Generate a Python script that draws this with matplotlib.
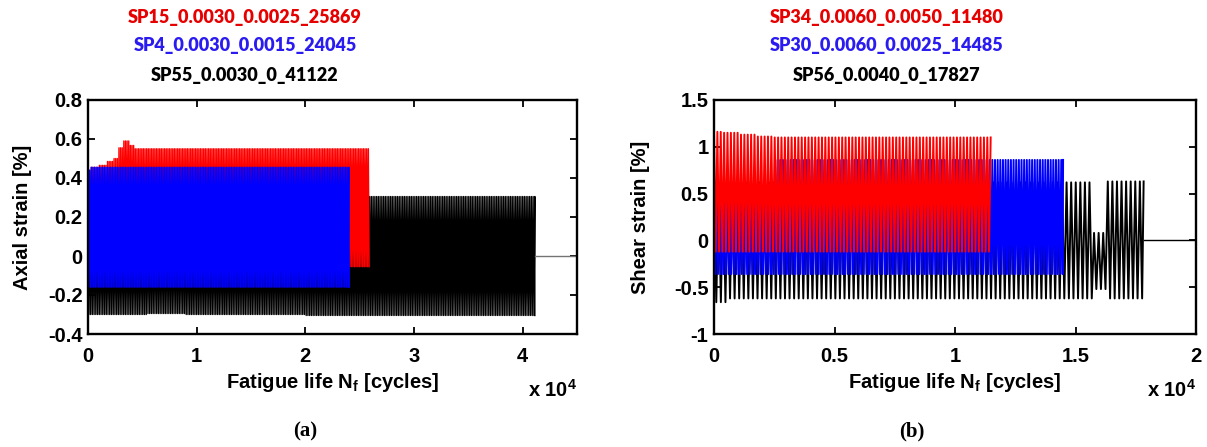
import numpy as np
import matplotlib.pyplot as plt

# ---- (a) axial strain histories: envelope breakpoints ----
# cycle at which a level starts, peak strain [%], valley strain [%]
sp15_life, sp15_step = 25869, 150
sp15_cyc = [0, 280, 990, 1700, 2400, 2830, 3180, 3540, 3820, 4240]
sp15_peak = [0.44, 0.455, 0.465, 0.485, 0.50, 0.555, 0.59, 0.59, 0.567, 0.55]
sp15_valley = [-0.055, -0.055, -0.055, -0.055, -0.055, -0.055, -0.055, -0.055, -0.055, -0.055]

sp4_life, sp4_step = 24045, 150
sp4_cyc = [0, 300]
sp4_peak = [0.44, 0.455]
sp4_valley = [-0.16, -0.16]

sp55_life, sp55_step = 41122, 160
sp55_cyc = [0, 5500, 9000, 20000]
sp55_peak = [0.30, 0.30, 0.30, 0.305]
sp55_valley = [-0.30, -0.295, -0.30, -0.305]

# ---- (b) shear strain histories ----
sp34_life, sp34_step = 11480, 140
sp34_cyc = [0, 400, 1000, 1700, 2500]
sp34_peak = [1.16, 1.15, 1.13, 1.11, 1.10]
sp34_valley = [-0.12, -0.12, -0.12, -0.12, -0.12]

sp30_life, sp30_step = 14485, 110
sp30_cyc = [0, 2500]
sp30_peak = [0.55, 0.86]
sp30_valley = [-0.36, -0.36]

sp56_life, sp56_step = 17827, 190
sp56_cyc = [0, 600, 15700, 16300]
sp56_peak = [0.62, 0.62, 0.08, 0.63]
sp56_valley = [-0.66, -0.62, -0.52, -0.62]

titles_a = ["SP15_0.0030_0.0025_25869", "SP4_0.0030_0.0015_24045", "SP55_0.0030_0_41122"]
titles_b = ["SP34_0.0060_0.0050_11480", "SP30_0.0060_0.0025_14485", "SP56_0.0040_0_17827"]
title_colors = ["#e60000", "#2a1cf0", "black"]

plt.rcParams["font.family"] = "Liberation Sans"
plt.rcParams["font.weight"] = "bold"
plt.rcParams["axes.labelweight"] = "bold"
plt.rcParams["mathtext.fontset"] = "custom"
plt.rcParams["mathtext.rm"] = "Liberation Sans:bold"
plt.rcParams["mathtext.bf"] = "Liberation Sans:bold"

FS = 14.5
W, H = 1207, 447
fig = plt.figure(figsize=(W / 100, H / 100), dpi=100)


def fx(x):
    return x / W


def fy(y):
    return 1 - y / H


def history(ax, life, step, cyc, peak, valley, color, lw):
    # alternate peak / valley of each logged block, levels looked up stepwise
    xs = np.append(np.arange(0, life, step / 2), life)
    idx = np.searchsorted(cyc, xs, side="right") - 1
    ys = np.where(np.arange(len(xs)) % 2 == 0, np.asarray(peak)[idx], np.asarray(valley)[idx])
    ax.plot(xs, ys, color=color, lw=lw)


def style(ax, xmax, xticks, yticks, ylabel):
    ax.set_xlim(0, xmax)
    ax.set_ylim(yticks[0], yticks[-1])
    ax.set_xticks([t * 1e4 for t in xticks])
    ax.set_xticklabels([f"{t:g}" for t in xticks])
    ax.set_yticks(yticks)
    ax.set_yticklabels([f"{t:g}" for t in yticks])
    ax.tick_params(direction="in", top=True, right=True, length=5, width=1.3, labelsize=FS)
    ax.tick_params(axis="x", pad=9)
    ax.tick_params(axis="y", pad=4)
    for s in ax.spines.values():
        s.set_linewidth(1.7)
    ax.set_xlabel(r"Fatigue life N$_\mathbf{f}$ [cycles]", fontsize=FS)
    ax.xaxis.set_label_coords(0.5, -48 / 234)
    ax.xaxis.label.set_verticalalignment("center")
    ax.set_ylabel(ylabel, fontsize=FS)


# (a)
axA = fig.add_axes([fx(88), fy(334), 489 / W, 234 / H])
history(axA, sp55_life, sp55_step, sp55_cyc, sp55_peak, sp55_valley, "black", 1.0)
axA.plot([sp55_life, 45000], [0, 0], color="0.45", lw=1.0)
history(axA, sp15_life, sp15_step, sp15_cyc, sp15_peak, sp15_valley, "red", 1.0)
history(axA, sp4_life, sp4_step, sp4_cyc, sp4_peak, sp4_valley, "blue", 1.0)
style(axA, 45000, [0, 1, 2, 3, 4], [-0.4, -0.2, 0, 0.2, 0.4, 0.6, 0.8], "Axial strain [%]")
axA.yaxis.set_label_coords(-56 / 489, 0.5)

# (b)
axB = fig.add_axes([fx(714), fy(334), 482 / W, 234 / H])
history(axB, sp56_life, sp56_step, sp56_cyc, sp56_peak, sp56_valley, "black", 1.4)
axB.plot([sp56_life, 20000], [0, 0], color="black", lw=1.0)
history(axB, sp30_life, sp30_step, sp30_cyc, sp30_peak, sp30_valley, "blue", 1.4)
history(axB, sp34_life, sp34_step, sp34_cyc, sp34_peak, sp34_valley, "red", 1.4)
style(axB, 20000, [0, 0.5, 1, 1.5, 2], [-1, -0.5, 0, 0.5, 1, 1.5], "Shear strain [%]")
axB.yaxis.set_label_coords(-64 / 482, 0.5)

# stacked coloured titles
for cx, names in [(245, titles_a), (887, titles_b)]:
    for i, (name, col) in enumerate(zip(names, title_colors)):
        fig.text(fx(cx), fy(17 + 29 * i), name, color=col, ha="center", va="center",
                 family="Lato", fontweight="heavy", fontsize=13)

# exponent labels and panel letters
for rx in (577, 1196):
    fig.text(fx(rx), fy(397), r"x 10$^\mathbf{4}$", ha="right", va="baseline", fontsize=FS)
fig.text(fx(305), fy(431), "(a)", ha="center", va="center", family="Liberation Serif",
         fontweight="bold", fontsize=15)
fig.text(fx(912), fy(431), "(b)", ha="center", va="center", family="Liberation Serif",
         fontweight="bold", fontsize=15)

fig.savefig("out.png", dpi=100)
